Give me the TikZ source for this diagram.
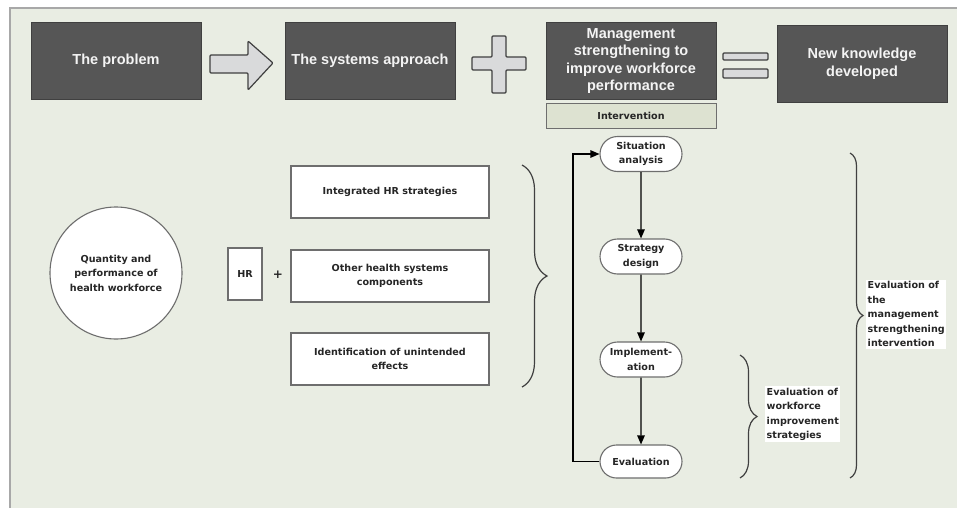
\documentclass[tikz,border=0pt]{standalone}
\usepackage{fontspec}
\setmainfont{Liberation Sans}
\newfontfamily\verdfont{DejaVu Sans}
\usepackage{xcolor}
\usetikzlibrary{shapes.misc, arrows.meta, decorations.pathreplacing, positioning, calc}
\definecolor{panelbg}{HTML}{E9EDE3}
\definecolor{panelline}{HTML}{A8A8A8}
\definecolor{boxdark}{HTML}{565656}
\definecolor{boxedge}{HTML}{404040}
\definecolor{boxtext}{HTML}{F4F4F4}
\definecolor{intervbg}{HTML}{DDE2D1}
\definecolor{symbolbg}{HTML}{D9DADB}
\definecolor{outline}{HTML}{6E6E6E}
\tikzset{
    darkbox/.style={
        rectangle,
        draw=boxedge,
        fill=boxdark,
        text=boxtext,
        line width=1pt,
        minimum width=170pt,
        minimum height=76pt,
        inner sep=2pt,
        align=center,
        font=\bfseries\fontsize{14.5}{17.5}\selectfont,
    },
    lowtext/.style={
        text=black!85,
        font=\verdfont\bfseries\fontsize{9.6}{14.5}\selectfont,
    },
    whitebox/.style={
        lowtext,
        rectangle,
        draw=outline,
        fill=white,
        line width=1.1pt,
        minimum width=198pt,
        minimum height=52pt,
        align=center,
    },
    stepbox/.style={
        lowtext,
        rounded rectangle,
        draw=outline,
        fill=white,
        line width=1.1pt,
        minimum width=84pt,
        minimum height=35pt,
        inner sep=1pt,
        align=center,
    },
    symbol/.style={
        draw=black!75,
        fill=symbolbg,
        line width=1.2pt,
        rounded corners=1pt,
    },
    flow/.style={
        ->,
        line width=1.1pt,
    },
    curly/.style={
        decorate,
        decoration={brace, amplitude=#1},
        line width=1.2pt,
        draw=black!75,
    },
    evalnote/.style={
        lowtext,
        fill=white,
        inner sep=1.5pt,
        align=left,
        anchor=north west,
    },
}

\begin{document}
\begin{tikzpicture}[x=1pt, y=-1pt, >={Triangle[length=9pt, width=7.5pt]}]
      \useasboundingbox (0,0) rectangle (957,511);
      \fill[panelbg] (10,8) rectangle (957,508);
      \draw[panelline, line width=2pt] (10,508) -- (10,8) -- (957,8);

      \node[darkbox] (problem) at (116,61) {The problem};

      \node[darkbox] (systems) at (370,61) {The systems approach};

      \node[darkbox] (mgmt) at (631,61) {Management\\strengthening to\\improve workforce\\performance};

      \node[lowtext, rectangle, draw=outline, fill=intervbg, line width=1pt,
            minimum width=170pt, minimum height=25pt] (interv) at (631,115.5) {Intervention};

      \node[darkbox] (newknow) at (862,64) {New knowledge\\developed};

      \draw[symbol] (210,55) -- (248,55) -- (248,41) -- (273,63) -- (248,90) -- (248,73) -- (210,73) -- cycle;
      \draw[symbol] (492,36) -- (506,36) -- (506,57) -- (526,57) -- (526,70) -- (506,70) -- (506,93)
                    -- (492,93) -- (492,70) -- (472,70) -- (472,57) -- (492,57) -- cycle;
      \draw[symbol] (723,53) rectangle (768,60);
      \draw[symbol] (723,69) rectangle (768,78);

      \node[lowtext, circle, draw=outline, fill=white, line width=1.1pt, minimum size=132pt,
            align=center] (workforce) at (116,273) {Quantity and\\performance of\\health workforce};

      \node[lowtext, rectangle, draw=outline, fill=white, line width=1.1pt,
            minimum width=34pt, minimum height=52pt, inner sep=1pt] (hr) at (245,274) {HR};

      \node[lowtext, font=\verdfont\bfseries\fontsize{12}{12}\selectfont] (plus) at (278,275) {+};

      \node[whitebox] (integrated) at (390,192) {Integrated HR strategies};

      \node[whitebox] (other) at (390,276) {Other health systems\\components};

      \node[whitebox] (unintended) at (390,359) {Identification of unintended\\effects};

      \node[stepbox] (situation) at (641,154) {Situation\\analysis};

      \node[stepbox] (design) at (641,256.5) {Strategy\\design};

      \node[stepbox] (implement) at (641,359.5) {Implement-\\ation};

      \node[stepbox, minimum height=33pt] (evaluation) at (641,461.5) {Evaluation};

      \draw[flow] (situation) -- (design);
      \draw[flow] (design) -- (implement);
      \draw[flow] (implement) -- (evaluation);

      \coordinate (loopx) at (573,0);
      \draw[flow] (evaluation.west) -- (evaluation.west -| loopx) |- (situation.west);

      \coordinate (bracea) at (522,165);
      \coordinate (braceb) at (522,387);
      \draw[curly=25pt] (bracea) -- (braceb);

      \coordinate (bracec) at (740,355);
      \coordinate (braced) at (740,478);
      \draw[curly=17pt] (bracec) -- (braced);

      \coordinate (bracee) at (850,153);
      \coordinate (bracef) at (850,478);
      \draw[curly=13pt] (bracee) -- (bracef);

      \node[evalnote] (evalworkforce) at (765,386) {Evaluation of\\workforce\\improvement\\strategies};

      \node[evalnote] (evalmgmt) at (866,280) {Evaluation of\\the\\management\\strengthening\\intervention};

    \end{tikzpicture}
\end{document}
